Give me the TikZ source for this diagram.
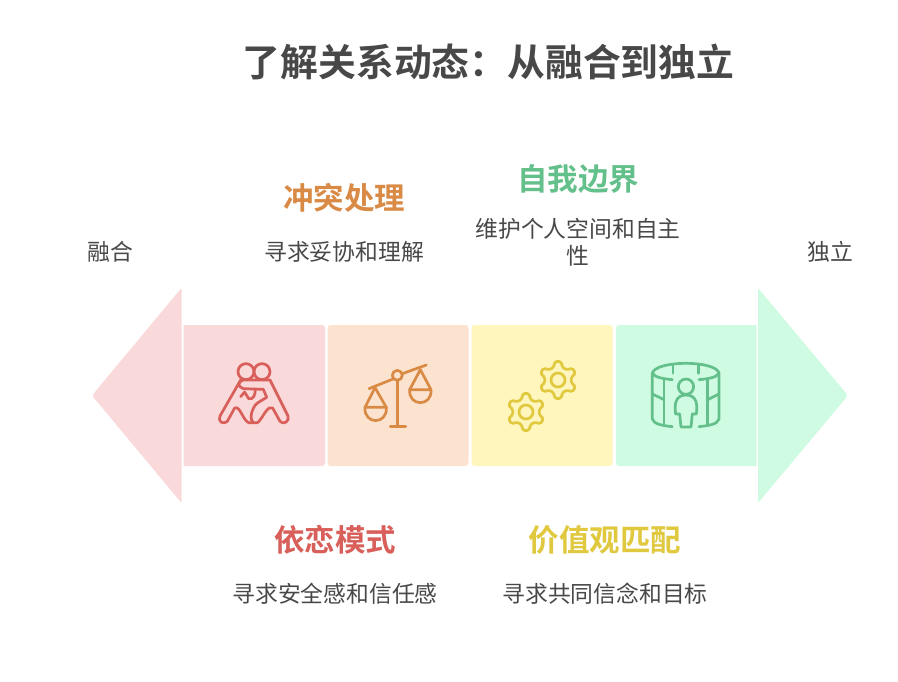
\documentclass[tikz,border=0pt]{standalone}
\usepackage{fontspec}
\newfontfamily\cjk{Noto Sans CJK SC}
\newfontfamily\cjkb{Noto Sans CJK SC Bold}
\definecolor{ink}{HTML}{484848}
\definecolor{cr}{HTML}{D95F5A}\definecolor{co}{HTML}{D98A45}\definecolor{cy}{HTML}{E0C93F}\definecolor{cg}{HTML}{63C08A}
\definecolor{fr}{HTML}{F9D9D9}\definecolor{fo}{HTML}{FCE3CF}\definecolor{fy}{HTML}{FEF6BC}\definecolor{fg}{HTML}{D0FBE3}
\tikzset{x=1pt,y=-1pt,
 titletext/.style={font=\fontsize{37.8}{42}\selectfont\cjkb,text=ink,inner sep=0pt},
 headtext/.style={font=\fontsize{30.5}{34}\selectfont\cjkb,inner sep=0pt},
 bodytext/.style={font=\fontsize{22.8}{27}\selectfont\cjk,text=ink,inner sep=0pt,align=center},
 panel/.style={rounded corners=3pt},
 tipshape/.style={rounded corners=2pt},
 iconline/.style={line width=2.7pt,line cap=round,line join=round},
}
\begin{document}
\begin{tikzpicture}
\useasboundingbox (0,0) rectangle (898,682);
\fill[white] (0,0) rectangle (898,682);
% arrows
\fill[fr,tipshape] (181.5,288) -- (92,395.5) -- (181.5,503) -- cycle;
\fill[fg,tipshape] (758,288) -- (848,395.5) -- (758,503) -- cycle;
% panels
\fill[fr] (183.5,325) [rounded corners=3pt] -- (325,325) -- (325,466) [sharp corners] -- (183.5,466) -- cycle;
\fill[fo,panel] (327.5,325) rectangle (468.5,466);
\fill[fy,panel] (471.5,325) rectangle (612.5,466);
\fill[fg] (756.5,325) [rounded corners=3pt] -- (616,325) -- (616,466) [sharp corners] -- (756.5,466) -- cycle;
% icon: embrace
\begin{scope}[shift={(200,340)},scale=1/3,cr,iconline]
\draw (138,95) circle (24);
\draw (186,95) circle (24);
\draw (122,120) -- (60,228) .. controls (52,244) and (70,256) .. (82,244) -- (104,204) .. controls (120,196) and (128,240) .. (146,248) .. controls (150,249) and (153,249) .. (158,248);
\draw (160,248) .. controls (150,240) and (152,220) .. (160,205) .. controls (165,190) and (180,185) .. (200,172) -- (190,148) -- (130,146) .. controls (112,140) and (112,125) .. (130,120) -- (210,120) -- (264,228) .. controls (270,244) and (250,256) .. (240,244) -- (218,204) .. controls (205,195) and (192,225) .. (180,240) .. controls (175,250) and (165,250) .. (160,248);
\draw (122,170) -- (134,156) -- (146,176) .. controls (160,180) and (166,165) .. (166,148);
\end{scope}
% icon: scales
\begin{scope}[shift={(345,345)},scale=1/3,co,iconline]
\draw (72,131) -- (144,102);
\draw (172,86) -- (244,60);
\draw (157,91) circle (15);
\draw (157,106) -- (157,244);
\draw (136,244) -- (182,244);
\draw (90,128) -- (60,187) -- (124,187) -- cycle;
\draw (60,187) .. controls (56,240) and (128,240) .. (124,187);
\draw (226,74) -- (194,134) -- (258,134) -- cycle;
\draw (194,134) .. controls (190,186) and (262,186) .. (258,134);
\end{scope}
% icon: gears
\begin{scope}[shift={(490,345)},scale=1/3,cy,iconline]
\foreach \cx/\cy in {204/105,108/201}{
 \begin{scope}[shift={(\cx,\cy)}]
 \draw (0,0) circle (21);
 \draw[rounded corners=1.5pt]
  (10:40) -- (21:56) -- (39:56) -- (50:40) -- (70:40) -- (81:56) -- (99:56) -- (110:40)
  -- (130:40) -- (141:56) -- (159:56) -- (170:40) -- (190:40) -- (201:56) -- (219:56) -- (230:40)
  -- (250:40) -- (261:56) -- (279:56) -- (290:40) -- (310:40) -- (321:56) -- (339:56) -- (350:40) -- cycle;
 \end{scope}
}
\end{scope}
% icon: person in cylinder
\begin{scope}[shift={(635,345)},scale=1/3,cg,iconline]
\draw (52,85) .. controls (60,45) and (245,45) .. (252,85);
\draw (252,85) .. controls (245,98) and (215,102) .. (192,104);
\draw (52,85) .. controls (60,98) and (90,102) .. (112,104);
\draw (114,62) -- (114,85);
\draw (191,62) -- (191,85);
\draw (52,85) -- (52,222) .. controls (56,238) and (85,242) .. (112,245);
\draw (252,85) -- (252,222) .. controls (248,238) and (220,242) .. (192,245);
\draw (87,101) -- (87,240);
\draw (218,101) -- (218,240);
\draw (52,147) -- (87,164);
\draw (252,147) -- (218,164);
\draw (153,125) circle (23);
\draw (153,150) .. controls (120,150) and (118,180) .. (122,207) -- (134,207) -- (138,246) -- (168,246) -- (172,207) -- (184,207) .. controls (188,180) and (186,150) .. (153,150);
\end{scope}
% texts
\node[titletext] (title) at (488.5,62) {了解关系动态：从融合到独立};
\node[headtext,text=co] (h1) at (344,198) {冲突处理};
\node[headtext,text=cg] (h2) at (578,179) {自我边界};
\node[headtext,text=cr] (h3) at (335,540) {依恋模式};
\node[headtext,text=cy] (h4) at (605,540) {价值观匹配};
\node[bodytext] (l) at (110,252) {融合};
\node[bodytext] (r) at (830,252) {独立};
\node[bodytext] (b1) at (344,252) {寻求妥协和理解};
\node[bodytext] (b2) at (578,242.5) {维护个人空间和自主\\性};
\node[bodytext] (b3) at (335,594) {寻求安全感和信任感};
\node[bodytext] (b4) at (605,594) {寻求共同信念和目标};
\end{tikzpicture}
\end{document}
